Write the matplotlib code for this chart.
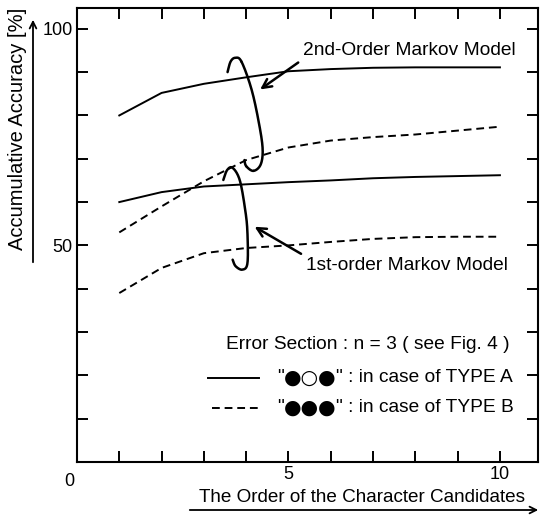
import numpy as np
import matplotlib
matplotlib.use("Agg")
import matplotlib.pyplot as plt

plt.rcParams['font.family'] = ['Liberation Sans', 'DejaVu Sans']

order = [1, 2, 3, 4, 5, 6, 7, 8, 9, 10]
m2_type_a = [80.0, 85.2, 87.3, 88.8, 90.2, 90.7, 91.0, 91.1, 91.1, 91.1]
m2_type_b = [53.0, 59.0, 64.8, 69.7, 72.6, 74.2, 75.0, 75.6, 76.5, 77.4]
m1_type_a = [60.0, 62.3, 63.6, 64.1, 64.6, 65.0, 65.5, 65.8, 66.0, 66.2]
m1_type_b = [39.0, 44.8, 48.2, 49.4, 50.0, 50.8, 51.5, 51.9, 52.0, 52.0]

# hand drawn curls grouping the curves (data coords)
curl_upper = [(3.56, 90.0), (3.63, 92.4), (3.74, 93.3), (3.89, 92.4), (4.13, 85.9),
              (4.31, 77.8), (4.39, 72.1), (4.34, 68.6), (4.17, 67.2), (4.0, 68.3), (3.96, 69.7)]
curl_lower = [(3.46, 65.1), (3.55, 67.4), (3.68, 67.9), (3.85, 65.0), (3.98, 58.0),
              (4.03, 52.9), (4.03, 45.9), (3.91, 44.4), (3.75, 45.2), (3.68, 46.7)]


def smooth(pts, n=20):
    p = np.array(pts)
    p = np.vstack([p[0], p, p[-1]])
    t = np.linspace(0, 1, n)[:, None]
    out = []
    for i in range(1, len(p) - 2):
        p0, p1, p2, p3 = p[i - 1], p[i], p[i + 1], p[i + 2]
        out.append(0.5 * (2 * p1 + (-p0 + p2) * t + (2 * p0 - 5 * p1 + 4 * p2 - p3) * t ** 2
                          + (-p0 + 3 * p1 - 3 * p2 + p3) * t ** 3))
    return np.vstack(out)


fig = plt.figure(figsize=(5.42, 5.16), dpi=100)
ax = fig.add_axes([77 / 542, 54 / 516, 461 / 542, 454 / 516])

dash = (0, (4, 2.5))
ax.plot(order, m2_type_a, color='black', lw=1.4)
ax.plot(order, m2_type_b, color='black', lw=1.4, linestyle=dash)
ax.plot(order, m1_type_a, color='black', lw=1.4)
ax.plot(order, m1_type_b, color='black', lw=1.4, linestyle=dash)

for c in (curl_upper, curl_lower):
    s = smooth(c)
    ax.plot(s[:, 0], s[:, 1], color='black', lw=1.8, solid_capstyle='round')

ax.set_xlim(0, 10.9)
ax.set_ylim(0, 104.8)
ax.set_xticks(order)
ax.set_xticklabels(['' if v not in (5, 10) else str(v) for v in order])
ax.set_yticks(range(10, 101, 10))
ax.set_yticklabels(['' if v not in (50, 100) else str(v) for v in range(10, 101, 10)])
ax.tick_params(direction='in', length=8, width=1.4, top=True, right=True,
               labelsize=13, pad=3)
for sp in ax.spines.values():
    sp.set_linewidth(1.5)
ax.text(-0.18, -2.5, '0', ha='center', va='top', fontsize=13)

fs = 13.8
ak = dict(arrowstyle='->', lw=1.8, color='black', mutation_scale=16)
ax.annotate('2nd-Order Markov Model', xy=(4.33, 86.0), xytext=(5.35, 95.0),
            fontsize=fs, ha='left', va='center',
            arrowprops=dict(ak, shrinkA=2, shrinkB=0, relpos=(0, 0)))
ax.annotate('1st-order Markov Model', xy=(4.2, 54.3), xytext=(5.42, 45.4),
            fontsize=fs, ha='left', va='center',
            arrowprops=dict(ak, shrinkA=2, shrinkB=0, relpos=(0, 1)))

ax.text(3.53, 27.1, 'Error Section : n = 3 ( see Fig. 4 )', fontsize=fs, va='center')
ax.plot([3.1, 4.3], [19.4, 19.4], color='black', lw=1.4)
ax.plot([3.2, 4.3], [12.5, 12.5], color='black', lw=1.4, linestyle=dash)

for yv, marks, kind in [(19.4, '\u25cf\u25cb\u25cf', 'A'), (12.5, '\u25cf\u25cf\u25cf', 'B')]:
    q = ax.text(4.72, yv, '"', fontsize=fs, va='center')
    m = ax.annotate(marks, xy=(1, 0.5), xycoords=q, xytext=(0, 0),
                    textcoords='offset points', va='center', fontsize=14.5,
                    family=['DejaVu Sans'])
    ax.annotate('" : in case of TYPE ' + kind, xy=(1, 0.5), xycoords=m,
                xytext=(0, 0), textcoords='offset points', va='center', fontsize=fs)

fig.text(18 / 542, 1 - 129 / 516, 'Accumulative Accuracy [%]', rotation=90,
         ha='center', va='center', fontsize=14.5)
fig.text(362 / 542, 1 - 497 / 516, 'The Order of the Character Candidates',
         ha='center', va='center', fontsize=13.6)
fig.add_artist(matplotlib.patches.FancyArrowPatch(
    (33 / 542, 1 - 265 / 516), (33 / 542, 1 - 17 / 516), transform=fig.transFigure,
    arrowstyle='->', mutation_scale=12, lw=1.3, color='black'))
fig.add_artist(matplotlib.patches.FancyArrowPatch(
    (187 / 542, 1 - 510 / 516), (541 / 542, 1 - 510 / 516), transform=fig.transFigure,
    arrowstyle='->', mutation_scale=12, lw=1.3, color='black'))

fig.savefig('out.png', dpi=100)
